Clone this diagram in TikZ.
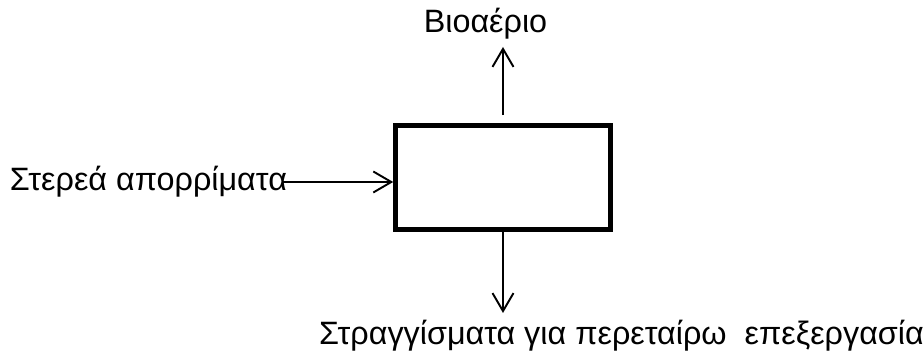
\documentclass[tikz,border=0pt]{standalone}
\usepackage{fontspec}
\setmainfont{Liberation Sans}
\usetikzlibrary{positioning, arrows.meta}
\tikzset{
  reactor/.style={draw, line width=2.6pt, minimum width=4.3cm, minimum height=2.08cm,
    inner sep=0},
  noborder/.style={draw=none, inner sep=0, outer sep=0, font=\fontsize{18.4}{22}\selectfont}
}

\begin{document}
\begin{tikzpicture}[>={Straight Barb[length=3.6mm,width=4.2mm]}, line width=1.1pt]
\useasboundingbox (0,0) rectangle (18.46,7.08);

\node [reactor] (reactor) at (10.06,3.53) {};

% gas out at the top
\node [noborder, anchor=base] (biogas) at (9.71,6.42) {Βιοαέριο};
\coordinate (gastip) at (10.06,6.14);
\draw[->] ([yshift=1.6mm]reactor.north) -- (gastip);

% feed from the left
\node [noborder, anchor=base west] (waste) at (0.2,3.26) {Στερεά απορρίματα};
\coordinate (wastestart) at (5.64,3.44);
\draw[->] (wastestart) -- (wastestart -| reactor.west);

% leachate out at the bottom
\node [noborder, anchor=base] (leachate) at (12.43,0.18) {Στραγγίσματα για περεταίρω\ \ επεξεργασία};
\coordinate (leachtip) at (10.06,0.82);
\draw[->] (reactor.south) -- (leachtip);

\end{tikzpicture}
\end{document}
